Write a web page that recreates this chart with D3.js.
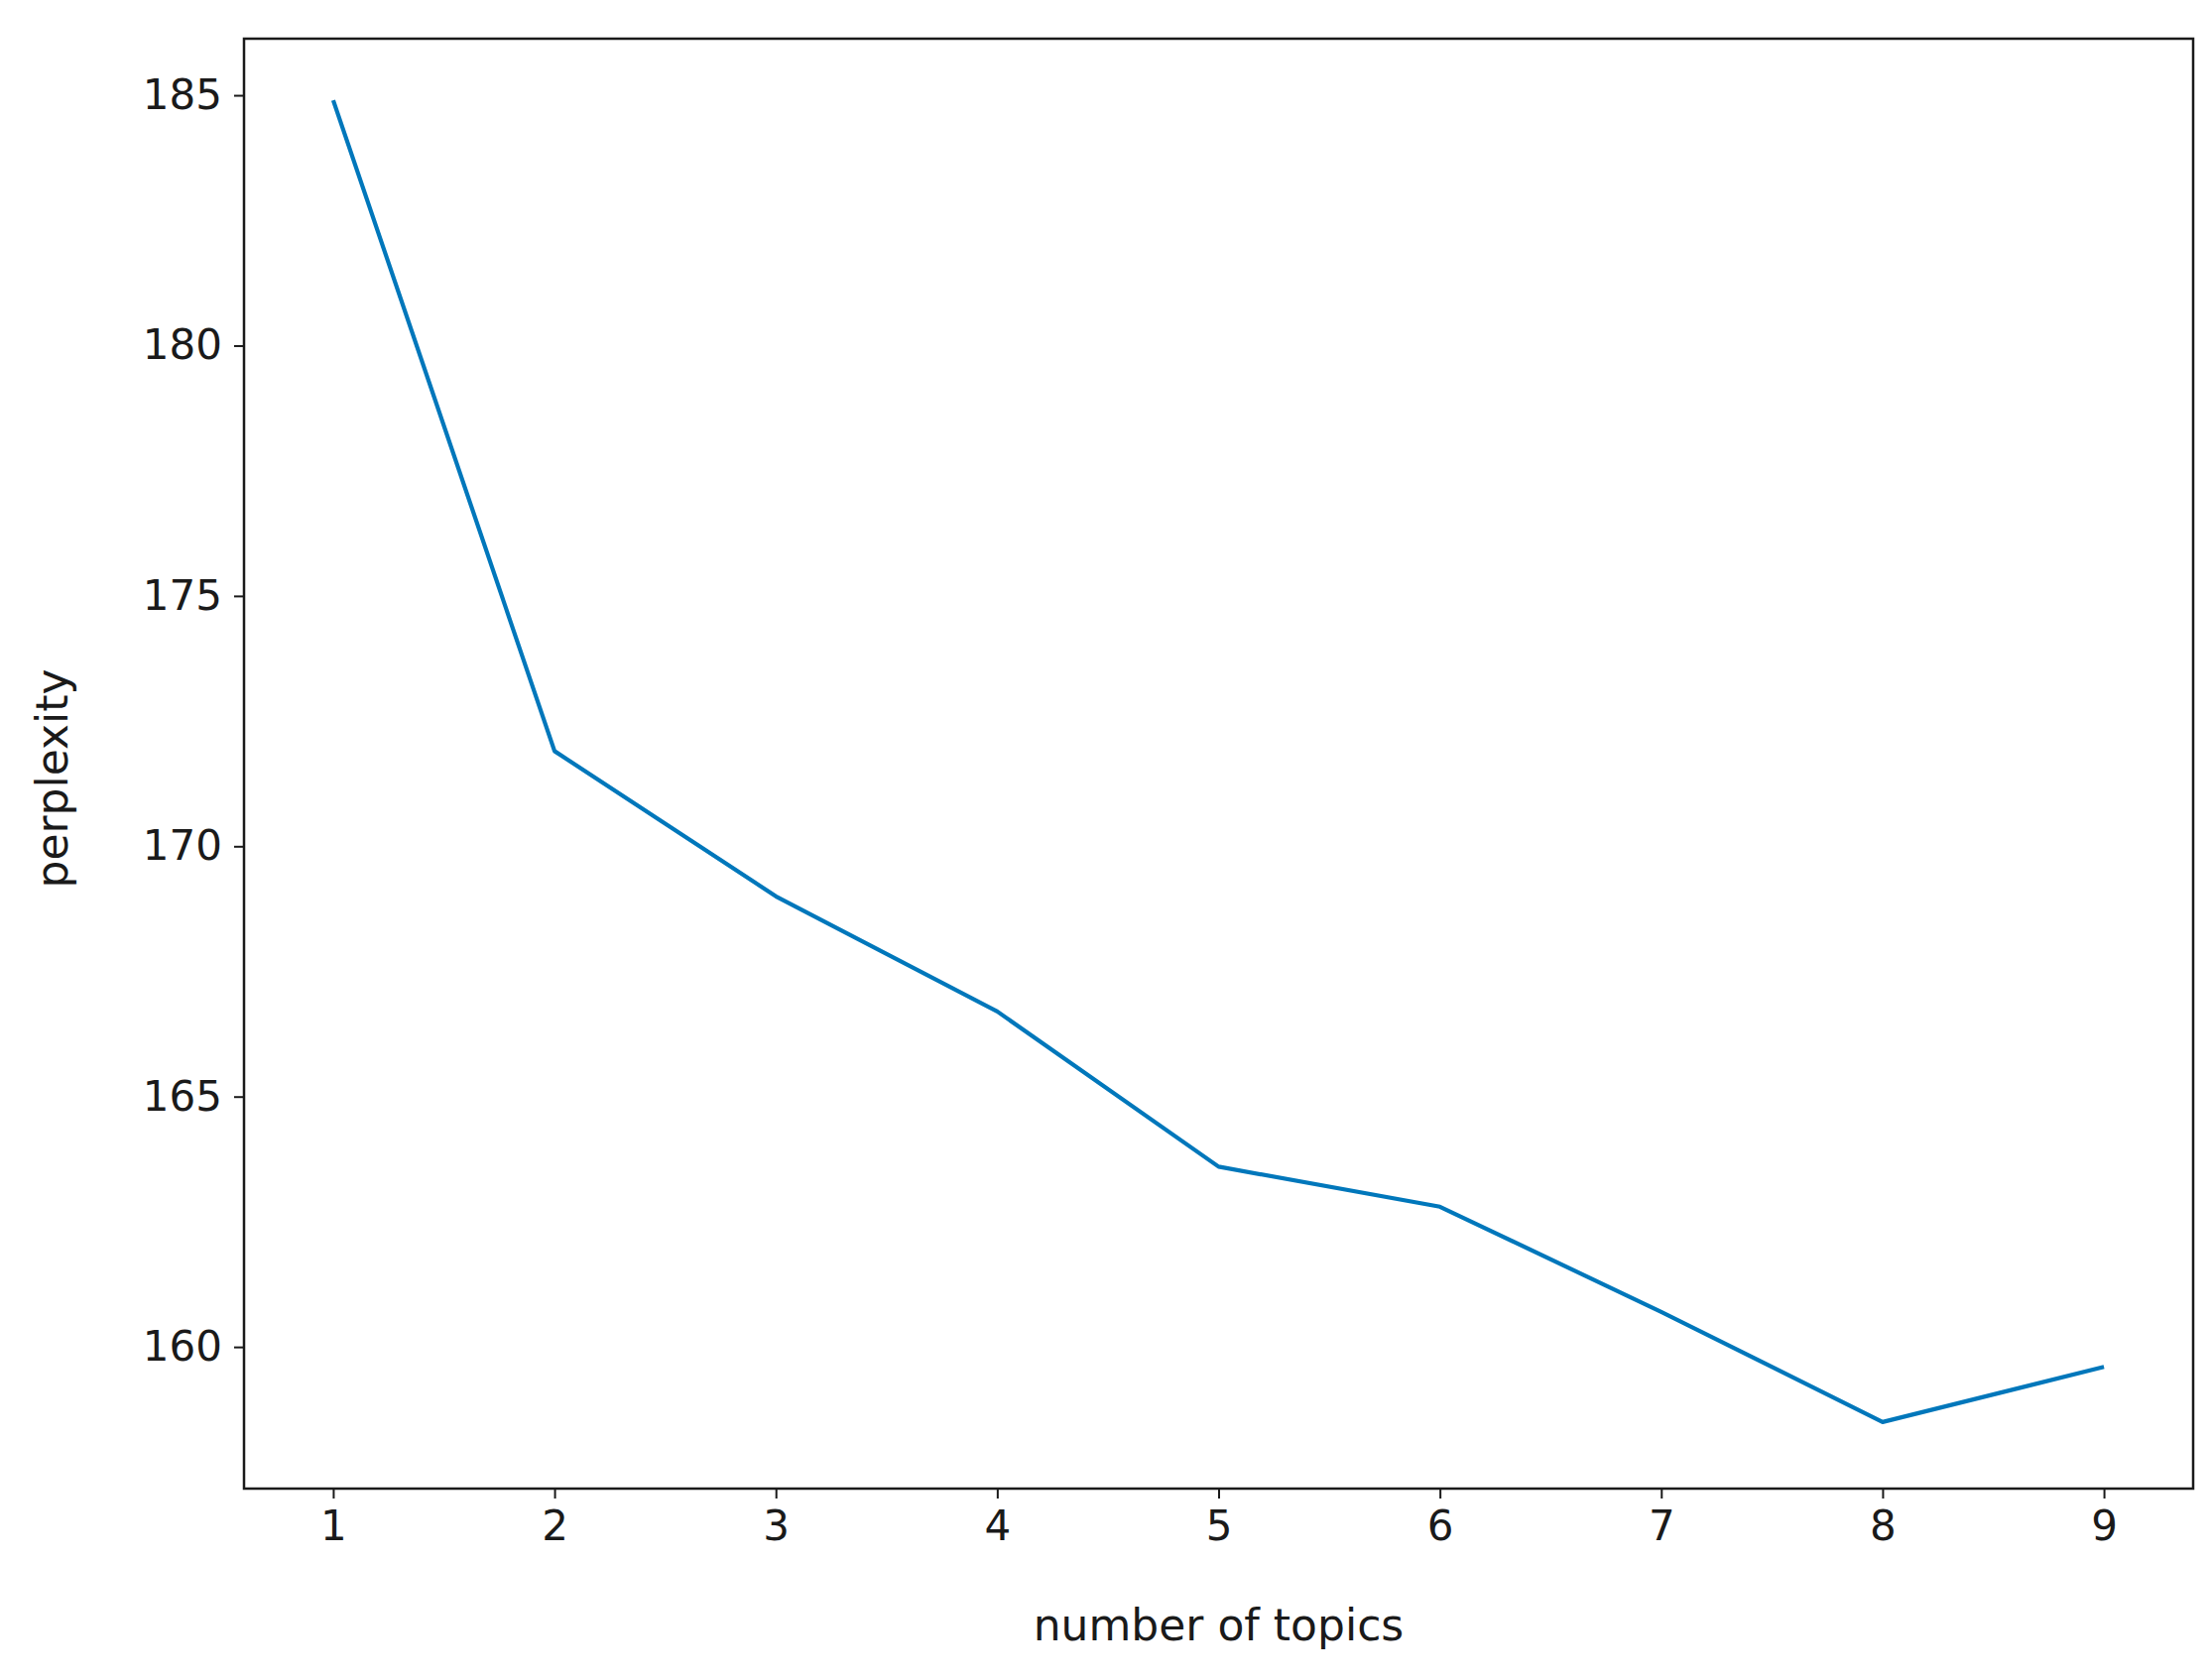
<!DOCTYPE html>
<html>
<head>
<meta charset="utf-8">
<script src="https://cdn.jsdelivr.net/npm/d3@7"></script>
<style>
  body { margin: 0; background: #fff; }
  text { font-family: "DejaVu Sans", sans-serif; fill: #1a1a1a; }
</style>
</head>
<body>
<div id="chart"></div>
<script>
// data
var topics = [1, 2, 3, 4, 5, 6, 7, 8, 9];
var perplexity = [184.9, 171.9, 169.0, 166.7, 163.6, 162.8, 160.7, 158.5, 159.6];
var yTicks = [160, 165, 170, 175, 180, 185];

var W = 2228, H = 1694;
var margin = {top: 39, right: 17, bottom: 193, left: 246};
var width = W - margin.left - margin.right;
var height = H - margin.top - margin.bottom;

var svg = d3.select("#chart").append("svg")
    .attr("width", W)
    .attr("height", H);

var g = svg.append("g")
    .attr("transform", "translate(" + [margin.left, margin.top] + ")");

var x = d3.scaleLinear().domain([0.597, 9.403]).range([0, width]);
var y = d3.scaleLinear().domain([157.17, 186.13]).range([height, 0]);

var xAxis = g.append("g")
    .attr("transform", "translate(0," + height + ")")
    .call(d3.axisBottom(x).tickValues(topics).tickFormat(d3.format("d")).tickSize(10).tickPadding(12));

var yAxis = g.append("g")
    .call(d3.axisLeft(y).tickValues(yTicks).tickSize(10).tickPadding(12));

[xAxis, yAxis].forEach(function(a) {
  a.select(".domain").remove();
  a.selectAll("line").attr("stroke", "#1a1a1a").attr("stroke-width", 2);
  a.selectAll("text").style("font-size", "42px").attr("fill", "#1a1a1a");
});

g.append("rect")
    .attr("width", width)
    .attr("height", height)
    .attr("fill", "none")
    .attr("stroke", "#1a1a1a")
    .attr("stroke-width", 2.5);

var line = d3.line()
    .x(function(d, i) { return x(topics[i]); })
    .y(function(d) { return y(d); });

g.append("path")
    .datum(perplexity)
    .attr("d", line)
    .attr("fill", "none")
    .attr("stroke", "#0077bb")
    .attr("stroke-width", 4.2)
    .attr("stroke-linejoin", "round");

svg.append("text")
    .attr("x", margin.left + width / 2)
    .attr("y", 1654)
    .attr("text-anchor", "middle")
    .style("font-size", "44px")
    .text("number of topics");

svg.append("text")
    .attr("transform", "translate(68," + (margin.top + height / 2 + 15) + ") rotate(-90)")
    .attr("text-anchor", "middle")
    .style("font-size", "44px")
    .text("perplexity");
</script>
</body>
</html>
